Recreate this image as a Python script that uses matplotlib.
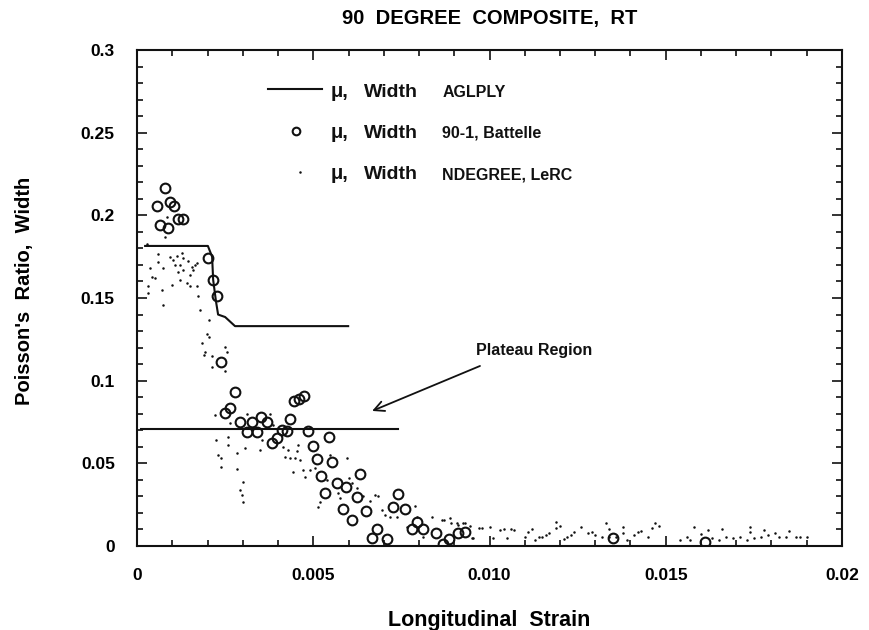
import matplotlib
matplotlib.use("Agg")
import matplotlib.pyplot as plt
from matplotlib.ticker import MultipleLocator, FixedFormatter, FixedLocator

plt.rcParams['font.family'] = ['Liberation Sans', 'DejaVu Sans']

# ---------------- data ----------------
# AGLPLY prediction (solid lines)
agl_strain = [0.00023, 0.00201, 0.00213, 0.00216, 0.00224, 0.0023, 0.0025, 0.00278, 0.00599]
agl_mu = [0.1815, 0.1815, 0.175, 0.161, 0.148, 0.140, 0.1385, 0.133, 0.133]
plateau_strain = [0.0001, 0.0074]
plateau_mu = [0.0708, 0.0708]

# 90-1, Battelle (open circles)
bat_strain = [0.00078, 0.00056, 0.00094, 0.00106, 0.00065, 0.00087, 0.00117, 0.00131,
              0.0020, 0.00215, 0.00226, 0.00237, 0.00279, 0.0025, 0.00264, 0.00292,
              0.00325, 0.00351, 0.00368, 0.00311, 0.00341, 0.00382, 0.00396, 0.0041,
              0.00425, 0.00434, 0.00445, 0.0046, 0.00474, 0.00486, 0.00498, 0.00545,
              0.00511, 0.00521, 0.00552, 0.00533, 0.00567, 0.00593, 0.00633, 0.00623,
              0.00584, 0.00609, 0.0065, 0.00666, 0.00682, 0.00708, 0.00727, 0.00741,
              0.0076, 0.00779, 0.00793, 0.00812, 0.00848, 0.00869, 0.00886, 0.00911,
              0.0093, 0.0135, 0.0161]
bat_mu = [0.2168, 0.2059, 0.2079, 0.2059, 0.1942, 0.1922, 0.1978, 0.1978,
          0.174, 0.1609, 0.1512, 0.1111, 0.093, 0.0803, 0.0833, 0.0752,
          0.0752, 0.0782, 0.0748, 0.0688, 0.0688, 0.0621, 0.0651, 0.0702,
          0.0696, 0.0766, 0.0879, 0.0889, 0.0909, 0.0697, 0.0605, 0.0661,
          0.0524, 0.0425, 0.051, 0.0319, 0.0383, 0.0359, 0.0436, 0.0295,
          0.0222, 0.0157, 0.0214, 0.005, 0.0101, 0.0041, 0.0238, 0.0313,
          0.0222, 0.0101, 0.0147, 0.0103, 0.0081, 0.0012, 0.0041, 0.0081,
          0.0087, 0.0047, 0.0026]

# NDEGREE, LeRC (small dots)
lerc_strain = [0.00027, 0.0006, 0.0006, 0.00037, 0.00042, 0.00051, 0.00032, 0.0003,
               0.00075, 0.0007, 0.00075, 0.00094, 0.00103, 0.00113, 0.00127, 0.00131,
               0.00122, 0.00108, 0.00117, 0.00131, 0.00146, 0.00155, 0.0015, 0.00165,
               0.00169, 0.0016, 0.00098, 0.00122, 0.00141, 0.0015, 0.00169, 0.00174,
               0.00179, 0.00205, 0.00198, 0.00205, 0.00184, 0.00193, 0.0019, 0.00212,
               0.0025, 0.00254, 0.00212, 0.0025, 0.00084, 0.00079,
               0.00221, 0.00224, 0.00231, 0.00237, 0.00238, 0.00259, 0.00259, 0.00264,
               0.00283, 0.00285, 0.00292, 0.00297, 0.003, 0.00302, 0.00306, 0.00311,
               0.00349, 0.00354, 0.00377, 0.00387, 0.00415, 0.0042, 0.00429, 0.00434,
               0.00448, 0.00453, 0.00458, 0.00462, 0.00442, 0.00472, 0.00477, 0.00491,
               0.00505, 0.00514, 0.00519, 0.00538, 0.00548, 0.00571, 0.00576, 0.00595,
               0.006, 0.00609, 0.00623, 0.00642, 0.00661, 0.00675, 0.00685, 0.00694,
               0.00704, 0.00718, 0.00737, 0.00765, 0.00789, 0.00793, 0.00812, 0.00836,
               0.00864, 0.00888, 0.00907, 0.00926, 0.00945, 0.00954,
               0.0087, 0.0089, 0.0091, 0.0093, 0.0095, 0.0097, 0.0098, 0.0100,
               0.0101, 0.0103, 0.0104, 0.0105, 0.0106, 0.0107, 0.0110, 0.0111,
               0.0112, 0.0113, 0.0114, 0.0115, 0.0116, 0.0117, 0.0119, 0.0119,
               0.0120, 0.0121, 0.0122, 0.0123, 0.0124, 0.0126, 0.0128, 0.0129,
               0.0130, 0.0132, 0.0133, 0.0134, 0.0134, 0.0136, 0.0138, 0.0138,
               0.0139, 0.0141, 0.0142, 0.0143, 0.0145, 0.0146, 0.0147, 0.0148,
               0.0154, 0.0156, 0.0157, 0.0158, 0.0160, 0.0162, 0.0163, 0.0165,
               0.0166, 0.0167, 0.0169, 0.0171, 0.0173, 0.0174, 0.0174, 0.0175,
               0.0177, 0.0178, 0.0179, 0.0181, 0.0182, 0.0184, 0.0185, 0.0187,
               0.0188, 0.0190]
lerc_mu = [0.1827, 0.1766, 0.172, 0.168, 0.163, 0.162, 0.157, 0.153,
           0.168, 0.155, 0.146, 0.1746, 0.173, 0.1754, 0.177, 0.174,
           0.17, 0.17, 0.166, 0.167, 0.1726, 0.169, 0.164, 0.17,
           0.171, 0.167, 0.158, 0.161, 0.159, 0.157, 0.157, 0.151,
           0.143, 0.137, 0.128, 0.1266, 0.1226, 0.1176, 0.1155, 0.115,
           0.1206, 0.1176, 0.1085, 0.106, 0.199, 0.187,
           0.0793, 0.0641, 0.055, 0.048, 0.053, 0.066, 0.061, 0.0742,
           0.056, 0.0464, 0.0339, 0.0309, 0.0268, 0.039, 0.059, 0.080,
           0.058, 0.064, 0.080, 0.073, 0.060, 0.054, 0.058, 0.053,
           0.053, 0.0577, 0.061, 0.052, 0.045, 0.046, 0.042, 0.046,
           0.047, 0.0238, 0.0268, 0.040, 0.055, 0.032, 0.029, 0.053,
           0.041, 0.038, 0.035, 0.030, 0.027, 0.031, 0.030, 0.022,
           0.019, 0.0177, 0.0177, 0.0117, 0.024, 0.0177, 0.0056, 0.0177,
           0.0157, 0.0167, 0.0137, 0.0137, 0.0121, 0.0046,
           0.0157, 0.0137, 0.0127, 0.0137, 0.0046, 0.0107, 0.0107, 0.0113,
           0.0046, 0.0097, 0.0101, 0.0046, 0.0101, 0.0097, 0.0056, 0.0086,
           0.0101, 0.0036, 0.0056, 0.0056, 0.0066, 0.0077, 0.0147, 0.0107,
           0.0121, 0.004, 0.0056, 0.0066, 0.0086, 0.0117, 0.0077, 0.0086,
           0.0066, 0.0056, 0.0141, 0.0101, 0.0056, 0.0056, 0.0113, 0.0077,
           0.0036, 0.0066, 0.0086, 0.0092, 0.0056, 0.0107, 0.0137, 0.0121,
           0.0036, 0.0052, 0.0036, 0.0117, 0.0072, 0.0097, 0.0046, 0.0036,
           0.0101, 0.0056, 0.0046, 0.0056, 0.0036, 0.0113, 0.0086, 0.0046,
           0.0056, 0.0097, 0.0066, 0.0077, 0.0056, 0.0056, 0.0092, 0.0056,
           0.0056, 0.0052]

x_ticks = [0, 0.005, 0.010, 0.015, 0.02]
x_labels = ['0', '0.005', '0.010', '0.015', '0.02']
y_ticks = [0, 0.05, 0.1, 0.15, 0.2, 0.25, 0.3]
y_labels = ['0', '0.05', '0.1', '0.15', '0.2', '0.25', '0.3']

# arrow pointing at the plateau (tail, head) in data units
arrow_tail = (0.00973, 0.1089)
arrow_head = (0.00667, 0.0817)

ink = '#111111'

fig = plt.figure(figsize=(8.7, 6.3), dpi=100)
ax = fig.add_axes([0.1575, 0.1333, 0.8103, 0.7873])

# data
ax.plot(lerc_strain, lerc_mu, 'o', color=ink, ms=1.8, mew=0, zorder=2)
ax.plot(bat_strain, bat_mu, 'o', mfc='none', mec=ink, ms=7, mew=1.5, zorder=3)
ax.plot(agl_strain, agl_mu, '-', color=ink, lw=1.5, zorder=4)
ax.plot(plateau_strain, plateau_mu, '-', color=ink, lw=1.5, zorder=4)

ax.set_xlim(0, 0.02)
ax.set_ylim(0, 0.3)

# ticks all round, pointing in
ax.xaxis.set_major_locator(FixedLocator(x_ticks))
ax.xaxis.set_major_formatter(FixedFormatter(x_labels))
ax.yaxis.set_major_locator(FixedLocator(y_ticks))
ax.yaxis.set_major_formatter(FixedFormatter(y_labels))
ax.xaxis.set_minor_locator(MultipleLocator(0.001))
ax.yaxis.set_minor_locator(MultipleLocator(0.01))
ax.tick_params(which='both', direction='in', top=True, right=True, color=ink, width=1.2)
ax.tick_params(which='major', length=7)
ax.tick_params(which='minor', length=4)
ax.tick_params(axis='x', which='major', pad=16, labelsize=12.5)
ax.tick_params(axis='y', which='major', pad=16, labelsize=12.5)
for lab in ax.get_xticklabels() + ax.get_yticklabels():
    lab.set_fontweight('bold')
for sp in ax.spines.values():
    sp.set_linewidth(1.5)
    sp.set_color(ink)

ax.set_title('90  DEGREE  COMPOSITE,  RT', fontsize=14.5, fontweight='bold', pad=19)
ax.set_xlabel('Longitudinal  Strain', fontsize=15.5, fontweight='bold', labelpad=19)
ax.set_ylabel("Poisson's  Ratio,  Width", fontsize=14.5, fontweight='bold')
ax.yaxis.set_label_coords(-0.146, 0.514)

# hand-made legend like the scan
ax.plot([0.186, 0.262], [0.921, 0.921], '-', color=ink, lw=1.5, transform=ax.transAxes)
ax.plot([0.2255], [0.837], 'o', mfc='none', mec=ink, ms=5.5, mew=1.5, transform=ax.transAxes)
ax.plot([0.231], [0.754], 'o', color=ink, ms=1.8, mew=0, transform=ax.transAxes)
rows = [(0.905, 'AGLPLY'), (0.823, '90-1, Battelle'), (0.739, 'NDEGREE, LeRC')]
for yy, src in rows:
    ax.text(0.274, yy, '\u03bc,', transform=ax.transAxes, fontsize=14.5,
            fontweight='bold', va='baseline', ha='left', color=ink)
    ax.text(0.322, yy, 'Width', transform=ax.transAxes, fontsize=14,
            fontweight='bold', va='baseline', ha='left', color=ink)
    ax.text(0.433, yy, src, transform=ax.transAxes, fontsize=11.5, fontweight='bold',
            va='baseline', ha='left', color=ink)

ax.text(0.481, 0.395, 'Plateau Region', transform=ax.transAxes, fontsize=11.5,
        fontweight='bold', color=ink, ha='left', va='center')
ax.annotate('', xy=arrow_head, xytext=arrow_tail,
            arrowprops=dict(arrowstyle='->', color=ink, lw=1.3,
                            shrinkA=0, shrinkB=0, mutation_scale=18))

fig.savefig('out.png', dpi=100)
